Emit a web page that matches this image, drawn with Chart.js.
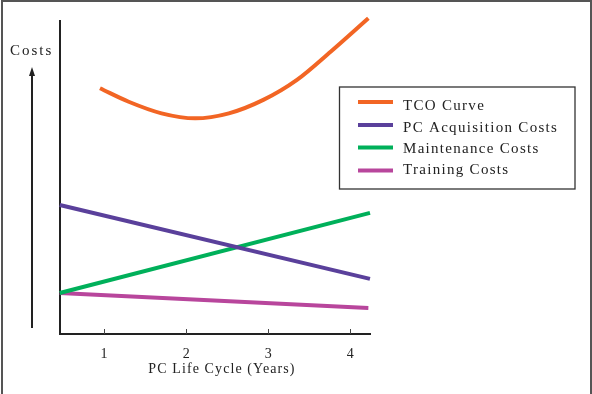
<!DOCTYPE html>
<html>
<head>
<meta charset="utf-8">
<script src="https://cdn.jsdelivr.net/npm/chart.js@4.4.1/dist/chart.umd.min.js"></script>
<style>
  html, body { margin: 0; padding: 0; background: #fff; }
  #wrap { width: 592px; height: 394px; }
</style>
</head>
<body>
<div id="wrap"><canvas id="tcoChart" width="592" height="394"></canvas></div>
<script>
// data (y is a relative cost index, no scale shown)
const seriesNames = ['TCO Curve', 'PC Acquisition Costs', 'Maintenance Costs', 'Training Costs'];
const seriesColors = ['#f26524', '#5a409b', '#00b05a', '#b8469c'];
const xTicks = [1, 2, 3, 4];
const xTitle = 'PC Life Cycle (Years)';
const yTitle = 'Costs';

const tcoYears = [0.95, 1.30, 1.70, 2.11, 2.52, 2.94, 3.35, 3.76, 4.22];
const tcoCost  = [78.5, 74.2, 70.5, 68.9, 70.5, 74.8, 81.2, 90.2, 100.9];
const acqYears = [0.46, 4.24];
const acqCost  = [41.2, 17.6];
const mntYears = [0.46, 4.24];
const mntCost  = [13.1, 38.7];
const trnYears = [0.46, 4.22];
const trnCost  = [13.1, 8.3];

const serif = "'Liberation Serif', 'DejaVu Serif', serif";
const ink = '#222';

function pts(xs, ys) { return xs.map((x, i) => ({ x: x, y: ys[i] })); }

// frame, axis titles, y arrow, inner tick marks, legend box
const extras = {
    id: 'extras',
    afterDraw(chart) {
        const ctx = chart.ctx;
        const xs = chart.scales.x;
        const area = chart.chartArea;
        ctx.save();

        // outer frame (top, left, right)
        ctx.strokeStyle = '#555';
        ctx.lineWidth = 2;
        ctx.beginPath();
        ctx.moveTo(2, 394); ctx.lineTo(2, 1); ctx.lineTo(591, 1); ctx.lineTo(591, 394);
        ctx.stroke();

        // Costs label + arrow
        ctx.fillStyle = ink;
        ctx.font = '15px ' + serif;
        ctx.letterSpacing = '2px';
        ctx.textAlign = 'left';
        ctx.textBaseline = 'alphabetic';
        ctx.fillText(yTitle, 10, 55);
        ctx.strokeStyle = ink;
        ctx.lineWidth = 2;
        ctx.beginPath();
        ctx.moveTo(32, 328); ctx.lineTo(32, 74);
        ctx.stroke();
        ctx.beginPath();
        ctx.moveTo(32, 67); ctx.lineTo(29, 76); ctx.lineTo(35, 76); ctx.closePath();
        ctx.fill();

        // x title, loosely spaced like the original
        ctx.font = '14px ' + serif;
        ctx.letterSpacing = '1.1px';
        ctx.textAlign = 'left';
        const tw = ctx.measureText(xTitle).width;
        ctx.fillText(xTitle, 222 - tw / 2, 373);

        // inner tick marks
        ctx.lineWidth = 1;
        ctx.strokeStyle = '#444';
        xTicks.forEach(v => {
            const px = Math.round(xs.getPixelForValue(v)) + 0.5;
            ctx.beginPath();
            ctx.moveTo(px, area.bottom); ctx.lineTo(px, area.bottom - 5);
            ctx.stroke();
        });

        // legend
        ctx.strokeStyle = '#333';
        ctx.lineWidth = 1.3;
        ctx.strokeRect(339.5, 87, 235.5, 102);
        ctx.font = '15px ' + serif;
        ctx.letterSpacing = '1.3px';
        ctx.textAlign = 'left';
        ctx.textBaseline = 'alphabetic';
        const swatchY = [102, 125, 147.5, 170.5];
        const textY = [110, 131.5, 153, 174];
        seriesNames.forEach((name, i) => {
            ctx.strokeStyle = seriesColors[i];
            ctx.lineWidth = 4;
            ctx.beginPath();
            ctx.moveTo(358, swatchY[i]); ctx.lineTo(393, swatchY[i]);
            ctx.stroke();
            ctx.fillStyle = ink;
            ctx.fillText(name, 403, textY[i]);
        });
        ctx.restore();
        ctx.letterSpacing = '0px';
    }
};

const allYears = [tcoYears, acqYears, mntYears, trnYears];
const allCosts = [tcoCost, acqCost, mntCost, trnCost];

new Chart(document.getElementById('tcoChart').getContext('2d'), {
    type: 'line',
    data: {
        datasets: seriesNames.map((name, i) => ({
            label: name,
            data: pts(allYears[i], allCosts[i]),
            borderColor: seriesColors[i],
            backgroundColor: seriesColors[i],
            borderWidth: 4,
            pointRadius: 0,
            cubicInterpolationMode: i === 0 ? 'monotone' : 'default',
            tension: 0,
            clip: false
        }))
    },
    options: {
        responsive: false,
        animation: false,
        layout: { padding: { left: 60, right: 222, top: 21, bottom: 0 } },
        plugins: { legend: { display: false }, tooltip: { enabled: false } },
        scales: {
            x: {
                type: 'linear',
                min: 0.463,
                max: 4.24,
                afterBuildTicks: s => { s.ticks = xTicks.map(v => ({ value: v })); },
                afterFit: s => { s.height = 60; },
                grid: { display: false },
                border: { color: ink, width: 2 },
                ticks: { color: ink, padding: 4, font: { family: serif, size: 14 } },
                title: { display: false }
            },
            y: {
                min: 0,
                max: 100,
                afterFit: s => { s.width = 0; },
                grid: { display: false },
                border: { color: ink, width: 2 },
                ticks: { display: false }
            }
        }
    },
    plugins: [extras]
});
</script>
</body>
</html>
